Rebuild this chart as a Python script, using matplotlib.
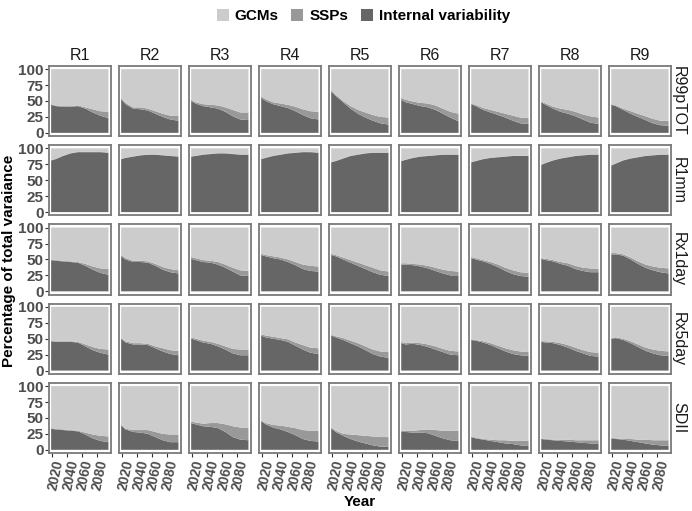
import numpy as np
import matplotlib
matplotlib.use("Agg")
import matplotlib.pyplot as plt
from matplotlib.patches import Patch

plt.rcParams['font.family'] = ['Liberation Sans', 'DejaVu Sans']

regions = ['R1', 'R2', 'R3', 'R4', 'R5', 'R6', 'R7', 'R8', 'R9']
indices = ['R99pTOT', 'R1mm', 'Rx1day', 'Rx5day', 'SDII']
years = [2019, 2025, 2035, 2045, 2055, 2065, 2075, 2085, 2096]

# internal variability share (%) and internal variability + SSP share (%), per region
iv_r99ptot = [
    [44, 42, 41, 41, 42, 38, 32, 27, 23],
    [53, 45, 38, 37, 35, 30, 25, 21, 19],
    [50, 46, 42, 40, 38, 33, 26, 21, 20],
    [55, 50, 45, 42, 39, 34, 28, 23, 21],
    [65, 58, 48, 38, 30, 24, 19, 15, 13],
    [52, 48, 45, 42, 40, 36, 30, 24, 18],
    [45, 42, 36, 32, 28, 24, 19, 15, 14],
    [48, 44, 38, 33, 30, 26, 21, 16, 14],
    [44, 42, 36, 30, 25, 20, 15, 12, 11],
]
top_r99ptot = [
    [45, 43, 42, 42, 43, 40, 37, 34, 33],
    [55, 47, 40, 40, 38, 34, 30, 27, 27],
    [52, 48, 45, 44, 43, 40, 36, 32, 32],
    [57, 53, 48, 46, 44, 41, 37, 34, 33],
    [67, 60, 50, 42, 36, 32, 28, 25, 24],
    [55, 52, 49, 47, 46, 43, 38, 33, 30],
    [46, 44, 39, 36, 33, 30, 27, 24, 23],
    [49, 46, 41, 38, 36, 33, 29, 26, 24],
    [45, 43, 38, 34, 30, 26, 22, 19, 19],
]
iv_r1mm = [
    [81, 83, 88, 92, 94, 94, 94, 94, 93],
    [83, 85, 87, 89, 90, 90, 89, 88, 87],
    [87, 88, 90, 91, 92, 92, 91, 90, 90],
    [83, 85, 88, 90, 92, 93, 94, 94, 93],
    [78, 80, 84, 88, 90, 92, 93, 93, 93],
    [80, 82, 85, 87, 88, 89, 90, 90, 90],
    [78, 80, 83, 85, 86, 87, 88, 88, 88],
    [74, 77, 81, 84, 86, 88, 89, 90, 90],
    [73, 76, 81, 84, 86, 88, 89, 90, 90],
]
top_r1mm = [[v + 0.5 for v in row] for row in iv_r1mm]
iv_rx1day = [
    [49, 48, 47, 46, 45, 40, 34, 29, 26],
    [55, 50, 46, 46, 45, 40, 34, 30, 28],
    [51, 49, 46, 45, 42, 37, 31, 25, 24],
    [57, 55, 52, 50, 46, 41, 35, 32, 31],
    [57, 55, 50, 45, 40, 35, 30, 26, 24],
    [42, 42, 41, 39, 36, 32, 28, 25, 25],
    [52, 50, 47, 43, 38, 32, 27, 24, 23],
    [51, 49, 47, 43, 40, 35, 32, 30, 30],
    [58, 58, 56, 50, 43, 37, 33, 30, 28],
]
top_rx1day = [
    [50, 49, 48, 47, 46, 43, 39, 36, 35],
    [57, 52, 48, 48, 47, 43, 38, 35, 33],
    [54, 52, 49, 48, 46, 42, 37, 33, 32],
    [59, 57, 55, 53, 50, 46, 42, 40, 39],
    [59, 57, 53, 49, 45, 41, 37, 33, 31],
    [44, 44, 43, 42, 40, 37, 34, 32, 31],
    [54, 52, 49, 46, 42, 37, 33, 30, 29],
    [52, 51, 49, 46, 44, 40, 37, 36, 35],
    [60, 60, 58, 53, 47, 42, 39, 37, 36],
]
iv_rx5day = [
    [46, 45, 45, 45, 44, 38, 32, 28, 25],
    [50, 44, 41, 41, 40, 35, 30, 26, 24],
    [50, 48, 44, 42, 38, 33, 27, 24, 24],
    [55, 52, 50, 48, 45, 39, 33, 28, 26],
    [55, 52, 48, 43, 38, 32, 26, 22, 20],
    [43, 41, 42, 40, 37, 33, 29, 25, 24],
    [48, 47, 44, 40, 35, 30, 26, 24, 23],
    [45, 44, 43, 40, 36, 31, 27, 23, 22],
    [50, 51, 48, 43, 37, 31, 27, 24, 23],
]
top_rx5day = [
    [47, 46, 46, 46, 45, 41, 37, 34, 33],
    [51, 46, 43, 43, 42, 38, 35, 32, 31],
    [52, 50, 47, 45, 42, 38, 34, 33, 33],
    [57, 55, 53, 51, 49, 44, 40, 36, 35],
    [56, 54, 51, 47, 43, 38, 33, 30, 29],
    [45, 43, 44, 43, 41, 38, 34, 31, 30],
    [49, 48, 46, 43, 39, 35, 32, 30, 29],
    [46, 46, 45, 43, 40, 36, 32, 29, 28],
    [51, 52, 50, 46, 41, 36, 33, 31, 30],
]
iv_sdii = [
    [33, 32, 31, 30, 29, 24, 18, 14, 12],
    [38, 32, 28, 27, 25, 20, 15, 12, 12],
    [42, 40, 37, 36, 34, 28, 20, 16, 15],
    [45, 40, 35, 32, 28, 23, 17, 14, 13],
    [34, 28, 22, 17, 13, 10, 7, 5, 5],
    [28, 28, 27, 27, 26, 22, 18, 15, 14],
    [20, 18, 16, 14, 12, 10, 9, 7, 6],
    [17, 16, 15, 14, 13, 12, 11, 10, 9],
    [18, 17, 16, 14, 12, 10, 8, 7, 6],
]
top_sdii = [
    [34, 33, 32, 31, 30, 27, 24, 22, 21],
    [40, 33, 31, 31, 31, 28, 25, 24, 24],
    [44, 43, 41, 42, 42, 40, 37, 35, 34],
    [46, 42, 39, 38, 36, 34, 31, 30, 30],
    [35, 30, 25, 24, 23, 22, 21, 20, 20],
    [30, 30, 30, 31, 32, 31, 30, 30, 30],
    [21, 19, 17, 16, 15, 15, 14, 14, 14],
    [18, 17, 16, 16, 16, 15, 15, 15, 15],
    [19, 18, 17, 17, 16, 16, 15, 15, 15],
]

iv_all = [iv_r99ptot, iv_r1mm, iv_rx1day, iv_rx5day, iv_sdii]
top_all = [top_r99ptot, top_r1mm, top_rx1day, top_rx5day, top_sdii]

c_gcm = '#cccccc'
c_ssp = '#999999'
c_iv = '#666666'
tick_col = '#4d4d4d'

fig, axes = plt.subplots(5, 9, figsize=(6.92, 5.11), dpi=100)
fig.subplots_adjust(left=0.071, right=0.97, top=0.871, bottom=0.1135,
                    wspace=0.13, hspace=0.13)

for i, idx in enumerate(indices):
    for j, reg in enumerate(regions):
        ax = axes[i, j]
        iv = np.array(iv_all[i][j], dtype=float)
        top = np.array(top_all[i][j], dtype=float)
        ax.stackplot(years, iv, top - iv, 100 - top,
                     colors=[c_iv, c_ssp, c_gcm], linewidth=0)
        ax.set_xlim(2016.3, 2099.6)
        ax.set_ylim(-5, 105)
        ax.set_yticks([0, 25, 50, 75, 100])
        ax.set_xticks([2020, 2040, 2060, 2080])
        for s in ax.spines.values():
            s.set_color('#7a7a7a')
            s.set_linewidth(1.3)
        ax.tick_params(color='#333333', length=3, width=0.8,
                       labelsize=11, labelcolor=tick_col, pad=1)
        if j == 0:
            ax.set_yticklabels(['0', '25', '50', '75', '100'], fontweight='bold')
        else:
            ax.tick_params(axis='y', left=False, labelleft=False)
        if i == 4:
            ax.set_xticklabels(['2020', '2040', '2060', '2080'],
                               rotation=78, fontweight='bold', fontsize=10,
                               ha='right', rotation_mode='anchor')
        else:
            ax.tick_params(axis='x', bottom=False, labelbottom=False)
        if i == 0:
            ax.set_title(reg, fontsize=11.5, color='#1a1a1a', pad=4)
        if j == 8:
            ax.text(1.12, 0.5, idx, transform=ax.transAxes, rotation=-90,
                    ha='center', va='center', fontsize=11.5, color='#1a1a1a')

fig.text(0.013, 0.49, 'Percentage of total varaiance', rotation=90,
         ha='center', va='center', fontsize=11, fontweight='bold')
fig.text(0.52, 0.003, 'Year', ha='center', va='bottom',
         fontsize=11, fontweight='bold')

handles = [Patch(facecolor=c_gcm, label='GCMs'),
           Patch(facecolor=c_ssp, label='SSPs'),
           Patch(facecolor=c_iv, label='Internal variability')]
fig.legend(handles=handles, loc='upper center', bbox_to_anchor=(0.525, 1.01),
           ncol=3, frameon=False, handlelength=0.8, handleheight=0.9,
           handletextpad=0.4, columnspacing=0.8,
           prop={'weight': 'bold', 'size': 11})

fig.savefig('out.png', dpi=100)
